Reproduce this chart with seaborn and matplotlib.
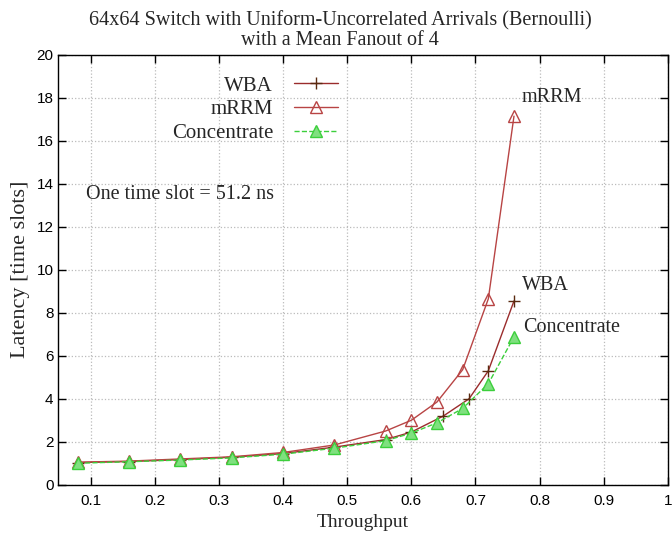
import matplotlib
matplotlib.use("Agg")
import matplotlib.pyplot as plt
import pandas as pd
import seaborn as sns

# throughput points and latencies
x_main = [0.08, 0.16, 0.24, 0.32, 0.40, 0.48, 0.56, 0.60, 0.64, 0.68, 0.72, 0.76]
x_wba = [0.08, 0.16, 0.24, 0.32, 0.40, 0.48, 0.56, 0.60, 0.65, 0.69, 0.72, 0.76]
wba = [1.03, 1.08, 1.17, 1.28, 1.45, 1.75, 2.1, 2.45, 3.2, 4.0, 5.3, 8.55]
mrrm = [1.05, 1.1, 1.2, 1.3, 1.5, 1.85, 2.5, 3.0, 3.85, 5.35, 8.65, 17.15]
concentrate = [1.0, 1.07, 1.15, 1.25, 1.42, 1.7, 2.05, 2.4, 2.88, 3.55, 4.7, 6.88]

x_ticks = [0.1, 0.2, 0.3, 0.4, 0.5, 0.6, 0.7, 0.8, 0.9, 1.0]
y_ticks = [0, 2, 4, 6, 8, 10, 12, 14, 16, 18, 20]

sns.set_style("white")
plt.rcParams['font.family'] = ['Liberation Serif', 'DejaVu Serif']

fig = plt.figure(figsize=(6.72, 5.38), dpi=100)
ax = fig.add_axes([0.087, 0.099, 0.907, 0.799])

df_wba = pd.DataFrame({'x': x_wba, 'y': wba})
df_mrrm = pd.DataFrame({'x': x_main, 'y': mrrm})
df_conc = pd.DataFrame({'x': x_main, 'y': concentrate})

sns.lineplot(data=df_wba, x='x', y='y', ax=ax, color='#9a2c2c', lw=1.0,
             marker='+', markersize=9, markeredgewidth=1.0,
             markeredgecolor='#5a2a10', label='WBA')
sns.lineplot(data=df_mrrm, x='x', y='y', ax=ax, color='#b84444', lw=1.0,
             marker='^', markersize=8, markerfacecolor='none',
             markeredgecolor='#b84444', markeredgewidth=1.0, label='mRRM')
sns.lineplot(data=df_conc, x='x', y='y', ax=ax, color='#3ccf3c', lw=1.0,
             linestyle='--', marker='^', markersize=8,
             markerfacecolor='#7fe07f', markeredgecolor='#3ccf3c',
             markeredgewidth=1.0, label='Concentrate')

ax.set_xlim(0.05, 1.0)
ax.set_ylim(0, 20)
ax.set_xticks(x_ticks)
ax.set_yticks(y_ticks)
ax.set_xticklabels(['%g' % t for t in x_ticks], family='Liberation Sans', fontsize=11)
ax.set_yticklabels(['%g' % t for t in y_ticks], family='Liberation Sans', fontsize=11)
ax.tick_params(direction='in', length=6, width=1, top=True, right=True,
               bottom=True, left=True, colors='black')
ax.tick_params(axis='x', pad=7)
ax.grid(True, linestyle=':', color='#bbbbbb', lw=0.9)
for s in ax.spines.values():
    s.set_color('black')
    s.set_linewidth(1.0)

ax.set_xlabel('Throughput', fontsize=14, labelpad=4)
ax.set_ylabel('Latency [time slots]', fontsize=16, labelpad=5)
ax.set_title('64x64 Switch with Uniform-Uncorrelated Arrivals (Bernoulli)\nwith a Mean Fanout of 4',
             fontsize=14.5, pad=7, linespacing=1.05, x=0.462)

ax.legend(loc='upper left', bbox_to_anchor=(0.172, 0.97), frameon=False,
          markerfirst=False, fontsize=15, handlelength=2.1, labelspacing=0.2,
          handletextpad=1.0, borderaxespad=0)

ax.text(0.772, 18.0, 'mRRM', fontsize=14.5, va='center')
ax.text(0.772, 9.25, 'WBA', fontsize=14.5, va='center')
ax.text(0.774, 7.3, 'Concentrate', fontsize=14.5, va='center')
ax.text(0.093, 13.5, 'One time slot = 51.2 ns', fontsize=14.5, va='center')

fig.savefig('out.png', dpi=100)
